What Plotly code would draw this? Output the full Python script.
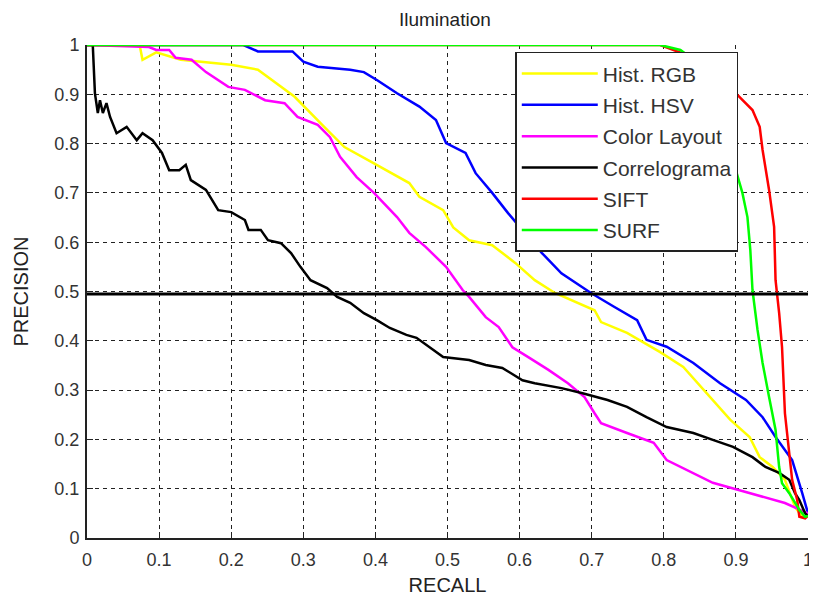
"""
Curvas precisão x revocação - Ilumination
"""
import plotly.graph_objects as go

# Hist. RGB
rgb_x = [0, 0.073, 0.077, 0.096, 0.13, 0.2, 0.237, 0.288, 0.329, 0.357, 0.398, 0.447,
         0.461, 0.494, 0.508, 0.53, 0.562, 0.594, 0.621, 0.649, 0.704, 0.713, 0.749,
         0.795, 0.827, 0.864, 0.892, 0.919, 0.933, 0.951, 0.968, 0.982, 0.992, 1.0]
rgb_y = [1, 1, 0.97, 0.985, 0.97, 0.96, 0.95, 0.895, 0.834, 0.793, 0.76, 0.72,
         0.692, 0.665, 0.63, 0.604, 0.594, 0.558, 0.523, 0.497, 0.462, 0.438, 0.416,
         0.377, 0.347, 0.286, 0.24, 0.205, 0.164, 0.144, 0.118, 0.063, 0.043, 0.045]

# Hist. HSV
hsv_x = [0, 0.217, 0.237, 0.285, 0.3, 0.32, 0.365, 0.384, 0.402, 0.43, 0.461, 0.484,
         0.498, 0.525, 0.539, 0.562, 0.584, 0.631, 0.658, 0.699, 0.731, 0.763, 0.776,
         0.804, 0.841, 0.878, 0.914, 0.937, 0.955, 0.978, 0.992, 1.0]
hsv_y = [1, 1, 0.987, 0.987, 0.966, 0.956, 0.95, 0.945, 0.929, 0.902, 0.875, 0.848,
         0.801, 0.781, 0.74, 0.7, 0.659, 0.578, 0.537, 0.497, 0.469, 0.442, 0.402,
         0.388, 0.355, 0.314, 0.28, 0.245, 0.205, 0.158, 0.091, 0.05]

# Color Layout
cl_x = [0, 0.086, 0.096, 0.114, 0.123, 0.145, 0.165, 0.196, 0.219, 0.247, 0.274, 0.292,
        0.32, 0.337, 0.351, 0.374, 0.398, 0.43, 0.447, 0.47, 0.498, 0.521, 0.53, 0.553,
        0.571, 0.59, 0.612, 0.64, 0.667, 0.69, 0.704, 0.713, 0.749, 0.786, 0.804, 0.841,
        0.868, 0.905, 0.941, 0.968, 1.0]
cl_y = [1, 0.996, 0.99, 0.99, 0.974, 0.97, 0.945, 0.915, 0.909, 0.888, 0.882, 0.854,
        0.838, 0.813, 0.773, 0.732, 0.7, 0.651, 0.619, 0.59, 0.55, 0.503, 0.489, 0.448,
        0.428, 0.387, 0.367, 0.341, 0.314, 0.286, 0.253, 0.233, 0.213, 0.193, 0.158, 0.132,
        0.112, 0.097, 0.083, 0.071, 0.05]

# Correlograma
cor_x = [0, 0.008, 0.011, 0.015, 0.018, 0.022, 0.027, 0.032, 0.041, 0.055, 0.069, 0.077,
         0.091, 0.104, 0.114, 0.128, 0.137, 0.144, 0.165, 0.182, 0.2, 0.219, 0.224, 0.241,
         0.251, 0.269, 0.283, 0.296, 0.31, 0.333, 0.347, 0.365, 0.384, 0.402, 0.42, 0.443,
         0.457, 0.475, 0.494, 0.53, 0.553, 0.576, 0.604, 0.621, 0.658, 0.686, 0.722, 0.749,
         0.776, 0.804, 0.841, 0.868, 0.896, 0.923, 0.941, 0.96, 0.974, 0.982, 0.988, 0.996, 1.0]
cor_y = [1, 1, 0.902, 0.862, 0.888, 0.862, 0.882, 0.854, 0.821, 0.834, 0.807, 0.821,
         0.807, 0.781, 0.746, 0.746, 0.757, 0.726, 0.706, 0.665, 0.661, 0.645, 0.625, 0.625,
         0.604, 0.598, 0.578, 0.55, 0.523, 0.507, 0.489, 0.477, 0.456, 0.442, 0.426, 0.412,
         0.406, 0.387, 0.367, 0.361, 0.351, 0.345, 0.32, 0.314, 0.304, 0.294, 0.28, 0.266,
         0.245, 0.225, 0.213, 0.199, 0.185, 0.164, 0.144, 0.132, 0.118, 0.091, 0.077, 0.05, 0.045]

# SIFT
sift_x = [0, 0.795, 0.85, 0.896, 0.9, 0.923, 0.933, 0.937, 0.946, 0.953, 0.955, 0.96,
          0.964, 0.968, 0.974, 0.978, 0.985, 0.988, 0.996, 1.0]
sift_y = [1, 1, 0.97, 0.92, 0.902, 0.868, 0.834, 0.787, 0.706, 0.631, 0.523, 0.456,
          0.387, 0.253, 0.172, 0.118, 0.077, 0.043, 0.04, 0.045]

# SURF
surf_x = [0, 0.795, 0.823, 0.86, 0.898, 0.9, 0.909, 0.916, 0.92, 0.923, 0.93, 0.937,
          0.946, 0.955, 0.96, 0.964, 0.974, 0.988, 0.996, 1.0]
surf_y = [1, 1, 0.99, 0.95, 0.842, 0.746, 0.7, 0.651, 0.584, 0.503, 0.422, 0.355,
          0.286, 0.219, 0.144, 0.111, 0.091, 0.057, 0.043, 0.045]

limiar = 0.495
ticks = [0, 0.1, 0.2, 0.3, 0.4, 0.5, 0.6, 0.7, 0.8, 0.9, 1]
tick_text = ['0', '0.1', '0.2', '0.3', '0.4', '0.5', '0.6', '0.7', '0.8', '0.9', '1']

series = [
    ('Hist. RGB', rgb_x, rgb_y, '#FFFF00'),
    ('Hist. HSV', hsv_x, hsv_y, '#0000FF'),
    ('Color Layout', cl_x, cl_y, '#FF00FF'),
    ('Correlograma', cor_x, cor_y, '#000000'),
    ('SIFT', sift_x, sift_y, '#FF0000'),
    ('SURF', surf_x, surf_y, '#00FF00'),
]

fig = go.Figure()

for nome, xs, ys, cor in series:
    fig.add_trace(go.Scatter(
        x=xs, y=ys, mode='lines', name=nome, legendgroup=nome,
        line=dict(color=cor, width=2.5)
    ))

# linha de limiar
fig.add_shape(type='line', xref='paper', yref='y', x0=0, x1=1, y0=limiar, y1=limiar,
              line=dict(color='black', width=3))

eixo = dict(
    range=[0, 1], tickvals=ticks, ticktext=tick_text, automargin=False,
    showgrid=True, gridcolor='#222', griddash='4px,4px', gridwidth=1,
    showline=True, linecolor='#222', linewidth=2,
    ticks='inside', ticklen=6, tickcolor='#222', zeroline=False,
    tickfont=dict(size=18, color='#333'),
    title_font=dict(size=20, color='#222'),
)

# a página tem 8px de margem no body, por isso a figura é um pouco menor
fig.update_layout(
    width=809, height=588,
    margin=dict(l=79, r=9, t=37, b=58),
    paper_bgcolor='white', plot_bgcolor='white',
    font=dict(family='Liberation Sans, Arial, sans-serif', color='#222'),
    title=dict(text='Ilumination', x=0.54, xanchor='center', y=0.981, yanchor='middle',
               font=dict(size=19, color='#222')),
    xaxis=dict(eixo, ticklabelstandoff=4, title=dict(text='RECALL', standoff=11)),
    yaxis=dict(eixo, ticklabelstandoff=2, title=dict(text='PRECISION', standoff=20)),
    legend=dict(x=0.594, y=0.986, xanchor='left', yanchor='top',
                bgcolor='white', bordercolor='#222', borderwidth=1.5,
                font=dict(size=21, color='#333'), itemwidth=76,
                tracegroupgap=1),
    showlegend=True,
)

fig.write_html("out.html")
